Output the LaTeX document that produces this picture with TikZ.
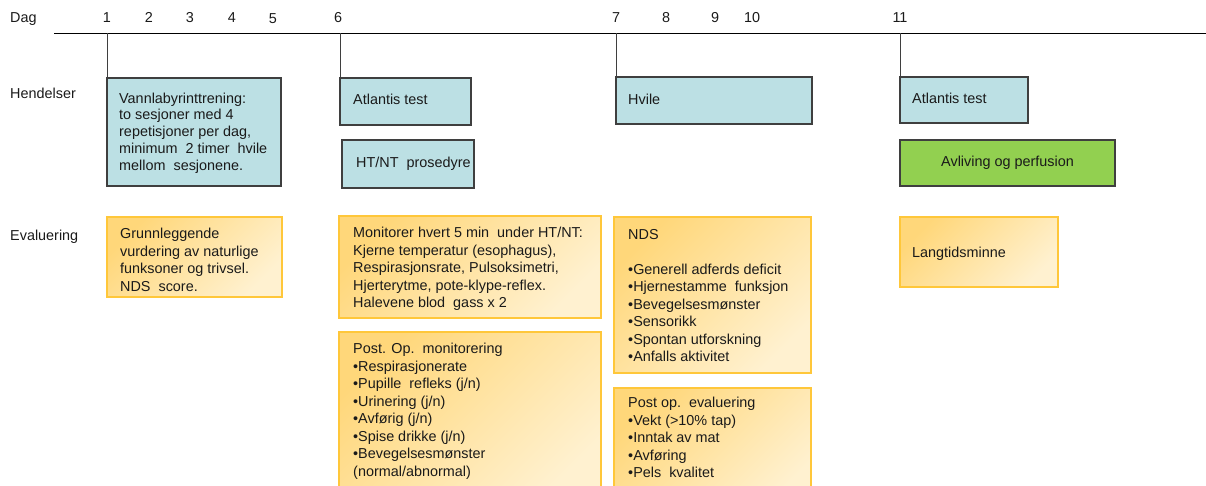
\documentclass[tikz,border=0pt]{standalone}
\usepackage{fontspec}
\setmainfont{Liberation Sans}
\usetikzlibrary{shadings}
\definecolor{evtblue}{HTML}{BCE0E4}
\definecolor{boxline}{HTML}{3F3F3F}
\definecolor{goldline}{HTML}{FFC73A}
\definecolor{orgtop}{HTML}{FFD77A}
\definecolor{orgbot}{HTML}{FFF1D0}
\definecolor{avlgreen}{HTML}{92D050}
\definecolor{txt}{HTML}{1A1A1A}
\tikzset{
  evtbox/.style={draw=boxline, fill=evtblue, line width=1.2pt, outer sep=0pt, inner sep=0pt, anchor=north west},
  greenbox/.style={draw=boxline, fill=avlgreen, line width=1.2pt, outer sep=0pt, inner sep=0pt, anchor=north west},
  evalbox/.style={draw=goldline, line width=1.2pt, outer sep=0pt, inner sep=0pt, anchor=north west,
    top color=orgtop, bottom color=orgbot, shading angle=45},
  lbl/.style={text=txt, inner sep=0pt, font=\fontsize{14.4}{17.5}\selectfont},
  multi/.style={lbl, align=left, anchor=north west},
  oneline/.style={lbl, anchor=base west},
  daynum/.style={lbl, anchor=base},
  tick/.style={draw=boxline, line width=0.9pt}
}
\begin{document}
\begin{tikzpicture}[x=1pt,y=-1pt]
\useasboundingbox (0,0) rectangle (1206,485);
\begin{scope}
\clip (0,0) rectangle (1206,485);
% timeline
\coordinate (tl0) at (54,33);
\coordinate (tl1) at (1206,33);
\draw[black, line width=0.9pt] (tl0) -- (tl1);
\coordinate (t1) at (107,33);
\coordinate (t6) at (340,33);
\coordinate (t7) at (616,33);
\coordinate (t11) at (900,33);

% day labels
\node[oneline] (dag) at (10,22) {Dag};
\node[daynum] (d1) at (107,22) {1};
\node[daynum] (d2) at (149,22) {2};
\node[daynum] (d3) at (190,22) {3};
\node[daynum] (d4) at (232,22) {4};
\node[daynum] (d5) at (273,23) {5};
\node[daynum] (d6) at (338,22) {6};
\node[daynum] (d7) at (616,22) {7};
\node[daynum] (d8) at (666,22) {8};
\node[daynum] (d9) at (715,22) {9};
\node[daynum] (d10) at (752,22) {10};
\node[daynum] (d11) at (900,22) {11};

% row labels
\node[oneline] (hend) at (10,98.5) {Hendelser};
\node[oneline] (eval) at (10,240) {Evaluering};

% event boxes
\node[evtbox, minimum width=174, minimum height=108] (vann) at (107,78) {};
\node[evtbox, minimum width=131, minimum height=47] (atl1) at (340,78) {};
\node[evtbox, minimum width=132, minimum height=48] (htnt) at (342,140) {};
\node[evtbox, minimum width=196, minimum height=47] (hvile) at (616,77) {};
\node[evtbox, minimum width=128, minimum height=46] (atl2) at (900,77) {};
\node[greenbox, minimum width=215, minimum height=46] (avl) at (900,140) {};

% connectors
\draw[tick] (t1) -- (vann.north west);
\draw[tick] (t6) -- (atl1.north west);
\draw[tick] (t7) -- (hvile.north west);
\draw[tick] (t11) -- (atl2.north west);

% event texts
\node[multi, font=\fontsize{14.4}{16.8}\selectfont] (vanntxt) at (119,92.5) {Vannlabyrinttrening:\\to sesjoner med 4\\repetisjoner per dag,\\minimum\ \ 2 timer\ \ hvile\\mellom\ \ sesjonene.};
\node[oneline] (atl1txt) at (353,104.5) {Atlantis test};
\node[oneline] (htnttxt) at (356,167.5) {HT/NT\ \ prosedyre};
\node[oneline] (hviletxt) at (628,104) {Hvile};
\node[oneline] (atl2txt) at (912,103) {Atlantis test};
\node[lbl, anchor=base] (avltxt) at (1007.5,166.5) {Avliving og perfusion};

% evaluation boxes
\node[evalbox, minimum width=175, minimum height=80] (grunn) at (107,217) {};
\node[evalbox, minimum width=262, minimum height=102] (mon) at (339,216) {};
\node[evalbox, minimum width=262, minimum height=170] (post) at (339,332) {};
\node[evalbox, minimum width=197, minimum height=156] (nds) at (614,217) {};
\node[evalbox, minimum width=197, minimum height=120] (poste) at (614,388) {};
\node[evalbox, minimum width=158, minimum height=70] (lang) at (900,217) {};

% evaluation texts
\node[multi] (grunntxt) at (120,228) {Grunnleggende\\vurdering av naturlige\\funksoner og trivsel.\\NDS\ \ score.};
\node[multi] (montxt) at (353,227) {Monitorer hvert 5 min\ \ under HT/NT:\\Kjerne temperatur (esophagus),\\Respirasjonsrate, Pulsoksimetri,\\Hjerterytme, pote-klype-reflex.\\Halevene blod\ \ gass x 2};
\node[multi] (posttxt) at (353,343) {Post. Op.\ \ monitorering\\•Respirasjonerate\\•Pupille\ \ refleks (j/n)\\•Urinering (j/n)\\•Avførig (j/n)\\•Spise drikke (j/n)\\•Bevegelsesmønster\\(normal/abnormal)};
\node[multi] (ndstxt) at (628,229) {NDS\\[17.5pt]•Generell adferds deficit\\•Hjernestamme\ \ funksjon\\•Bevegelsesmønster\\•Sensorikk\\•Spontan utforskning\\•Anfalls aktivitet};
\node[multi] (postetxt) at (628,397) {Post op.\ \ evaluering\\•Vekt (>10\% tap)\\•Inntak av mat\\•Avføring\\•Pels\ \ kvalitet};
\node[oneline] (langtxt) at (912,257) {Langtidsminne};
\end{scope}
\end{tikzpicture}
\end{document}
